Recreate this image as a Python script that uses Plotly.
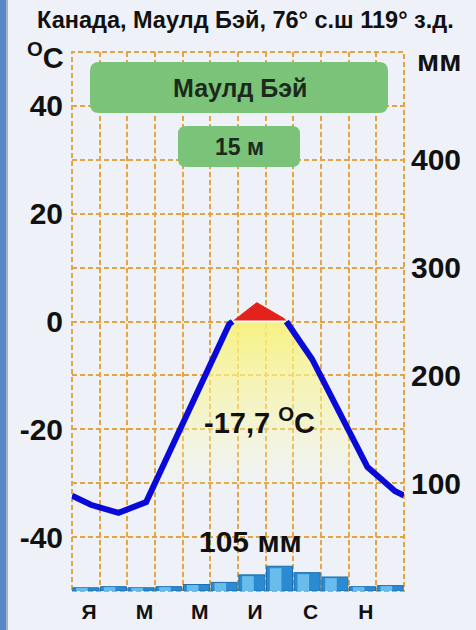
import plotly.graph_objects as go

# ---- data ----
months = ['Я', 'Ф', 'М', 'А', 'М', 'И', 'И', 'А', 'С', 'О', 'Н', 'Д']
month_ticktext = ['Я', '', 'М', '', 'М', '', 'И', '', 'С', '', 'Н', '']
temp_c = [-34.0, -35.5, -33.5, -22.5, -11.5, -0.5, 3.5, 0.5, -7.0, -17.0, -27.0, -31.5]
precip_mm = [3, 4, 3, 4, 6, 8, 15, 23, 17, 13, 4, 5]
left_tickvals = [-50, -40, -30, -20, -10, 0, 10, 20, 30, 40, 50]
left_ticktext = ['', '-40', '', '-20', '', '0', '', '20', '', '40', '']
right_ticks = [100, 200, 300, 400]
title_text = 'Канада, Маулд Бэй, 76° с.ш 119° з.д.'
station = 'Маулд Бэй'
elevation = '15 м'
mean_temp_text = '-17,7 <sup>O</sup>C'
total_precip_text = '105 мм'

# ---- layout geometry ----
W, H = 476, 630
L, R, T, B = 72, 404, 52, 591
T_RANGE = [-50, 50]
P_RANGE = [0, 500]
GRID = '#e2a546'
BG = '#eef2f8'
FONT = 'Liberation Sans, Arial, sans-serif'
DASH = '5px,3px'
line_offset = 0.68
label_offset = 0.62

x_line = [i + line_offset for i in range(12)]
# wrap-around value at the chart edges
dec_x = x_line[-1] - 12
edge_val = temp_c[-1] + (0 - dec_x) * (temp_c[0] - temp_c[-1]) / (x_line[0] - dec_x)
px = [0] + x_line + [12]
py = [edge_val] + temp_c + [edge_val]

# insert zero crossings
xs, ys = [px[0]], [py[0]]
for k in range(1, len(px)):
    x0, y0, x1, y1 = px[k - 1], py[k - 1], px[k], py[k]
    if (y0 < 0 < y1) or (y1 < 0 < y0):
        xc = x0 + (0 - y0) * (x1 - x0) / (y1 - y0)
        xs.append(xc); ys.append(0.0)
    xs.append(x1); ys.append(y1)

blue_y = [y if y <= 0 else None for y in ys]
red_x = [x for x, y in zip(xs, ys) if y >= 0]
red_y = [y for y in ys if y >= 0]

fig = go.Figure()

# baseline for yellow fill
fig.add_trace(go.Scatter(x=[0, 12], y=[T_RANGE[0], T_RANGE[0]], mode='lines',
                         line=dict(width=0), hoverinfo='skip', showlegend=False))
fig.add_trace(go.Scatter(
    x=xs, y=ys, mode='lines', line=dict(width=0), fill='tonexty',
    fillgradient=dict(type='vertical', start=-32, stop=4,
                      colorscale=[[0, 'rgba(250,248,200,0)'],
                                  [0.4, 'rgba(250,246,160,0.5)'],
                                  [1, 'rgba(247,240,100,0.95)']]),
    hoverinfo='skip', showlegend=False))

# precipitation bars
fig.add_trace(go.Bar(x=[i + 0.5 for i in range(12)], y=precip_mm, width=0.94,
                     yaxis='y2', marker=dict(color='#2a8ad2', line=dict(color='#1d6fb0', width=1)),
                     showlegend=False))
fig.add_trace(go.Bar(x=[i + 0.36 for i in range(12)], y=[v * 0.92 for v in precip_mm], width=0.42,
                     yaxis='y2', marker=dict(color='rgba(125,205,245,0.75)', line=dict(width=0)),
                     showlegend=False))

# red part above zero
fig.add_trace(go.Scatter(x=red_x, y=red_y, mode='lines', fill='tozeroy',
                         fillcolor='#e3221b', line=dict(color='#e3221b', width=1),
                         showlegend=False))
fig.add_trace(go.Scatter(x=[red_x[0], red_x[-1]], y=[0, 0], mode='lines',
                         line=dict(color='white', width=2), showlegend=False))
# blue temperature line
fig.add_trace(go.Scatter(x=xs, y=blue_y, mode='lines', connectgaps=False,
                         line=dict(color='#0a0ad8', width=6), showlegend=False))

grid_common = dict(gridcolor=GRID, griddash=DASH, gridwidth=2)

fig.update_layout(
    width=W, height=H,
    margin=dict(l=L, r=W - R, t=T, b=H - B, autoexpand=False),
    paper_bgcolor=BG, plot_bgcolor=BG,
    font=dict(family=FONT, color='#111'),
    barmode='overlay',
    xaxis=dict(range=[0, 12], tickvals=[i + label_offset for i in range(12)],
               ticktext=month_ticktext, showgrid=False, zeroline=False, ticks='', automargin=False,
               tickfont=dict(size=21, weight='bold', color='#111'), ticklabelstandoff=6,
               minor=dict(tick0=0, dtick=1, showgrid=True, **grid_common)),
    yaxis=dict(range=T_RANGE, tickvals=left_tickvals, ticktext=left_ticktext, showgrid=True,
               zeroline=False, ticks='', automargin=False,
               tickfont=dict(size=30, weight='bold', color='#111'), ticklabelstandoff=8,
               **grid_common),
    yaxis2=dict(range=P_RANGE, overlaying='y', side='right', tickvals=right_ticks,
                showgrid=False, zeroline=False, ticks='', automargin=False,
                tickfont=dict(size=30, weight='bold', color='#111'), ticklabelstandoff=6),
)

def xp(p):
    return (p - L) / (R - L)

def yp(p):
    return (B - p) / (B - T)

def rounded(x0, y0, x1, y1, r):
    rx, ry = r / (R - L), r / (B - T)
    a, b, c, d = xp(x0), yp(y1), xp(x1), yp(y0)
    return (f'M {a+rx},{b} L {c-rx},{b} Q {c},{b} {c},{b+ry} L {c},{d-ry} '
            f'Q {c},{d} {c-rx},{d} L {a+rx},{d} Q {a},{d} {a},{d-ry} L {a},{b+ry} Q {a},{b} {a+rx},{b} Z')

shapes = [
    dict(type='rect', xref='paper', yref='paper', x0=0, x1=1, y0=0, y1=1,
         line=dict(color=GRID, width=2, dash=DASH), layer='below'),
    dict(type='path', xref='paper', yref='paper', path=rounded(90, 62, 388, 113, 9),
         fillcolor='#7bc378', line=dict(width=0)),
    dict(type='path', xref='paper', yref='paper', path=rounded(178, 126, 300, 167, 8),
         fillcolor='#7bc378', line=dict(width=0)),
    dict(type='rect', xref='paper', yref='paper', x0=xp(0), x1=xp(6), y0=yp(H), y1=yp(0),
         fillcolor='#5a86c8', line=dict(width=0), layer='above'),
    dict(type='rect', xref='paper', yref='paper', x0=xp(6), x1=xp(8), y0=yp(H), y1=yp(0),
         fillcolor='#a7b2c4', line=dict(width=0), layer='above'),
]
fig.update_layout(shapes=shapes)

def ann(text, x, y, size, **kw):
    fig.add_annotation(text=text, xref='paper', yref='paper', x=xp(x), y=yp(y),
                       xanchor='center', yanchor='middle',
                       showarrow=False, font=dict(size=size, family=FONT, weight='bold',
                                                  color=kw.pop('color', '#111')), **kw)

ann(title_text, 245, 20, 23.5)
ann(station, 240, 88, 25, color='#1b2a1b')
ann(elevation, 239, 147, 23, color='#1b2a1b')
ann('<sup>O</sup>C', 45, 56, 29)
ann('мм', 439, 60, 30)
ann(mean_temp_text, 259, 421, 29)
ann(total_precip_text, 250, 541, 30)

fig.write_html('out.html', config={'displayModeBar': False},
               post_script="document.body.style.margin='0';document.body.style.background='#eef2f8';")
